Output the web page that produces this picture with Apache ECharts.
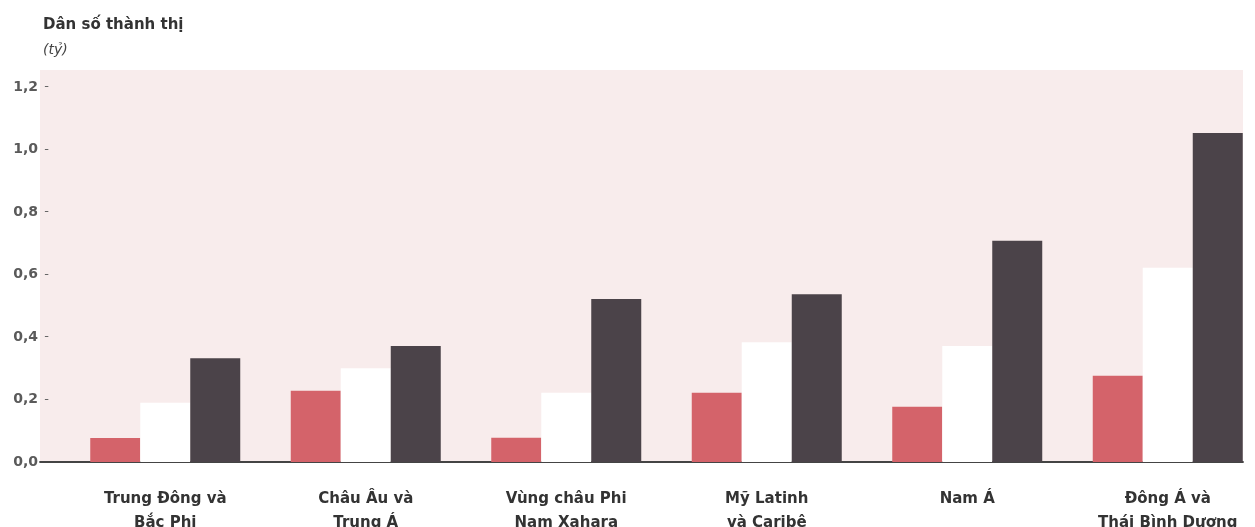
<!DOCTYPE html>
<html>
<head>
<meta charset="utf-8">
<script src="https://cdn.jsdelivr.net/npm/echarts@6/dist/echarts.min.js"></script>
<style>html,body{margin:0;padding:0;background:#fff}#c{width:1255px;height:527px}</style>
</head>
<body>
<div id="c"></div>
<script>
const categories = ["Trung Đông và\nBắc Phi", "Châu Âu và\nTrung Á", "Vùng châu Phi\nNam Xahara", "Mỹ Latinh\nvà Caribê", "Nam Á", "Đông Á và\nThái Bình Dương"];
const seriesRed = [0.077, 0.228, 0.078, 0.222, 0.177, 0.276];
const seriesWhite = [0.190, 0.300, 0.222, 0.383, 0.371, 0.622];
const seriesDark = [0.332, 0.371, 0.522, 0.537, 0.708, 1.053];
const yTicks = [0, 0.2, 0.4, 0.6, 0.8, 1.0, 1.2];

const FONT = 'DejaVu Sans';
const chart = echarts.init(document.getElementById('c'), null, {renderer: 'canvas'});
chart.setOption({
  animation: false,
  backgroundColor: '#ffffff',
  title: {
    text: 'Dân số thành thị',
    subtext: '(tỷ)',
    left: 38, top: 13, itemGap: 10,
    textStyle: {fontFamily: FONT, fontSize: 15, fontWeight: 'bold', color: '#333'},
    subtextStyle: {fontFamily: FONT, fontSize: 14, fontStyle: 'italic', color: '#444'}
  },
  grid: {left: 40, right: 12, top: 70, bottom: 65, show: true, backgroundColor: '#f8ecec', borderWidth: 0,
         containLabel: false, outerBoundsMode: 'none'},
  xAxis: {
    type: 'category',
    data: categories,
    axisLine: {show: true, lineStyle: {color: '#444', width: 1.8}},
    axisTick: {show: false},
    axisLabel: {
      interval: 0, margin: 25, padding: [0, 0, 0, 50],
      fontFamily: FONT, fontSize: 15, fontWeight: 'bold', color: '#333', lineHeight: 24
    }
  },
  yAxis: {
    type: 'value', min: 0, max: 1.2544, interval: 0.2,
    axisLine: {show: false}, axisTick: {show: false}, splitLine: {show: false},
    axisLabel: {
      margin: -9,
      formatter: function (v) {
        const hit = yTicks.find(t => Math.abs(t - v) < 1e-6);
        if (hit === undefined) return '';
        const s = hit.toFixed(1).replace('.', ',');
        return hit === 0 ? '{n|' + s + '}{e| }' : '{n|' + s + '}{d|-}';
      },
      rich: {
        n: {fontFamily: FONT, fontSize: 14, fontWeight: 'bold', color: '#5a5a5a'},
        d: {fontFamily: FONT, fontSize: 13, color: '#666', width: 11, align: 'right'},
        e: {fontFamily: FONT, fontSize: 13, width: 11}
      }
    }
  },
  series: [
    {type: 'bar', name: 'spacer', data: categories.map(() => null), barWidth: 50, barGap: '0%', silent: true},
    {type: 'bar', name: 'red', data: seriesRed, barWidth: 50, barGap: '0%', itemStyle: {color: '#d4636a'}},
    {type: 'bar', name: 'white', data: seriesWhite, barWidth: 50, barGap: '0%', itemStyle: {color: '#ffffff'}},
    {type: 'bar', name: 'dark', data: seriesDark, barWidth: 50, barGap: '0%', itemStyle: {color: '#4b4349'}}
  ]
});
</script>
</body>
</html>
